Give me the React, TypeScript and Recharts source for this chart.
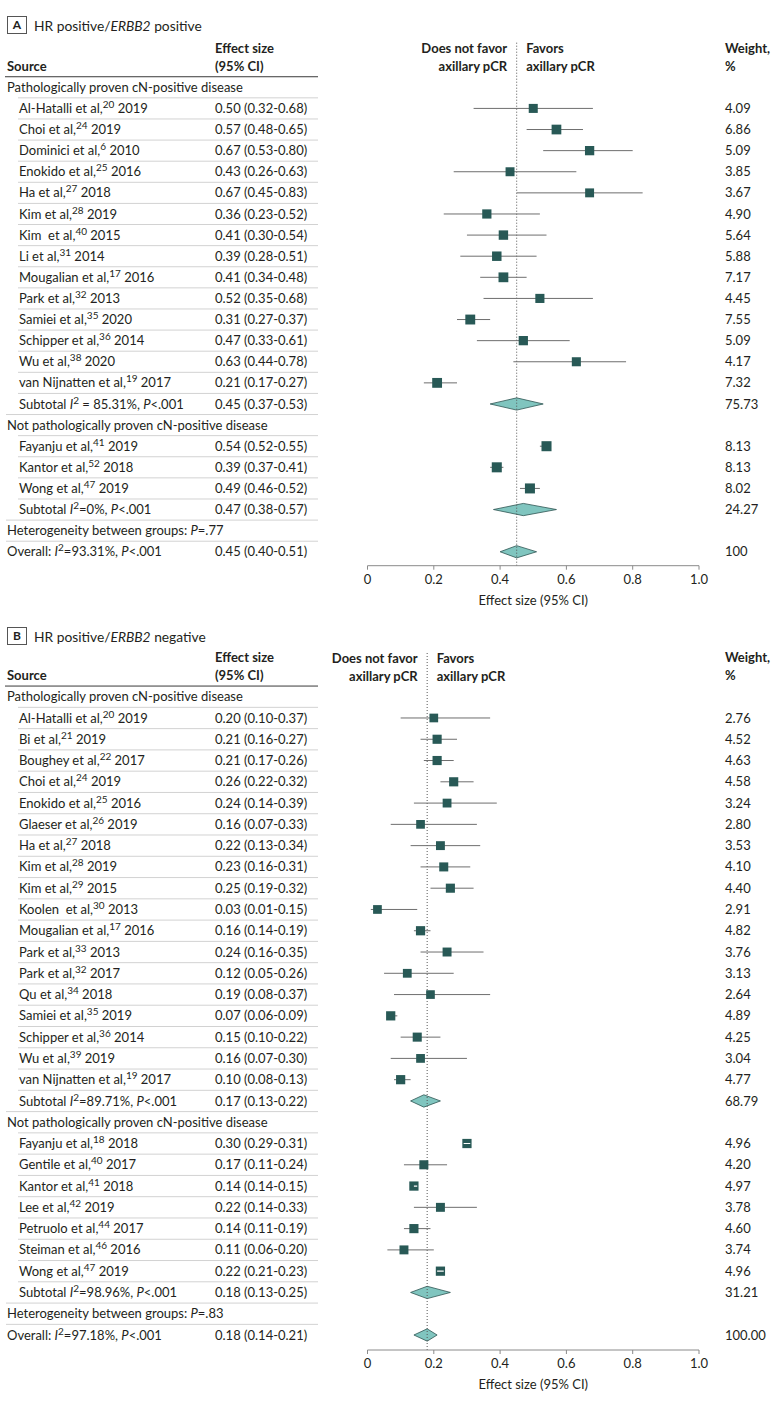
import React from 'react';
import {
  Area, ComposedChart, ErrorBar, ReferenceLine, Scatter, XAxis, YAxis,
} from 'recharts';

// ---- data, panel A: HR positive / ERBB2 positive ----
const groupLabels = ['Pathologically proven cN-positive disease', 'Not pathologically proven cN-positive disease'];

const authorsA = ['Al-Hatalli et al,', 'Choi et al,', 'Dominici et al,', 'Enokido et al,', 'Ha et al,', 'Kim et al,', 'Kim  et al,', 'Li et al,', 'Mougalian et al,', 'Park et al,', 'Samiei et al,', 'Schipper et al,', 'Wu et al,', 'van Nijnatten et al,', 'Fayanju et al,', 'Kantor et al,', 'Wong et al,'];
const refsA = ['20', '24', '6', '25', '27', '28', '40', '31', '17', '32', '35', '36', '38', '19', '41', '52', '47'];
const yearsA = ['2019', '2019', '2010', '2016', '2018', '2019', '2015', '2014', '2016', '2013', '2020', '2014', '2020', '2017', '2019', '2018', '2019'];
const groupA = [0, 0, 0, 0, 0, 0, 0, 0, 0, 0, 0, 0, 0, 0, 1, 1, 1];
const estA = [0.50, 0.57, 0.67, 0.43, 0.67, 0.36, 0.41, 0.39, 0.41, 0.52, 0.31, 0.47, 0.63, 0.21, 0.54, 0.39, 0.49];
const lowA = [0.32, 0.48, 0.53, 0.26, 0.45, 0.23, 0.30, 0.28, 0.34, 0.35, 0.27, 0.33, 0.44, 0.17, 0.52, 0.37, 0.46];
const highA = [0.68, 0.65, 0.80, 0.63, 0.83, 0.52, 0.54, 0.51, 0.48, 0.68, 0.37, 0.61, 0.78, 0.27, 0.55, 0.41, 0.52];
const weightA = [4.09, 6.86, 5.09, 3.85, 3.67, 4.90, 5.64, 5.88, 7.17, 4.45, 7.55, 5.09, 4.17, 7.32, 8.13, 8.13, 8.02];
const subI2A = [' = 85.31%', '=0%'];
const subEstA = [0.45, 0.47];
const subLowA = [0.37, 0.38];
const subHighA = [0.53, 0.57];
const subWeightA = ['75.73', '24.27'];
const hetPA = '.77';
const overallA = { i2: '=93.31%', est: 0.45, low: 0.40, high: 0.51, weight: '100' };

// ---- data, panel B: HR positive / ERBB2 negative ----
const authorsB = ['Al-Hatalli et al,', 'Bi et al,', 'Boughey et al,', 'Choi et al,', 'Enokido et al,', 'Glaeser et al,', 'Ha et al,', 'Kim et al,', 'Kim et al,', 'Koolen  et al,', 'Mougalian et al,', 'Park et al,', 'Park et al,', 'Qu et al,', 'Samiei et al,', 'Schipper et al,', 'Wu et al,', 'van Nijnatten et al,', 'Fayanju et al,', 'Gentile et al,', 'Kantor et al,', 'Lee et al,', 'Petruolo et al,', 'Steiman et al,', 'Wong et al,'];
const refsB = ['20', '21', '22', '24', '25', '26', '27', '28', '29', '30', '17', '33', '32', '34', '35', '36', '39', '19', '18', '40', '41', '42', '44', '46', '47'];
const yearsB = ['2019', '2019', '2017', '2019', '2016', '2019', '2018', '2019', '2015', '2013', '2016', '2013', '2017', '2018', '2019', '2014', '2019', '2017', '2018', '2017', '2018', '2019', '2017', '2016', '2019'];
const groupB = [0, 0, 0, 0, 0, 0, 0, 0, 0, 0, 0, 0, 0, 0, 0, 0, 0, 0, 1, 1, 1, 1, 1, 1, 1];
const estB = [0.20, 0.21, 0.21, 0.26, 0.24, 0.16, 0.22, 0.23, 0.25, 0.03, 0.16, 0.24, 0.12, 0.19, 0.07, 0.15, 0.16, 0.10, 0.30, 0.17, 0.14, 0.22, 0.14, 0.11, 0.22];
const lowB = [0.10, 0.16, 0.17, 0.22, 0.14, 0.07, 0.13, 0.16, 0.19, 0.01, 0.14, 0.16, 0.05, 0.08, 0.06, 0.10, 0.07, 0.08, 0.29, 0.11, 0.14, 0.14, 0.11, 0.06, 0.21];
const highB = [0.37, 0.27, 0.26, 0.32, 0.39, 0.33, 0.34, 0.31, 0.32, 0.15, 0.19, 0.35, 0.26, 0.37, 0.09, 0.22, 0.30, 0.13, 0.31, 0.24, 0.15, 0.33, 0.19, 0.20, 0.23];
const weightB = [2.76, 4.52, 4.63, 4.58, 3.24, 2.80, 3.53, 4.10, 4.40, 2.91, 4.82, 3.76, 3.13, 2.64, 4.89, 4.25, 3.04, 4.77, 4.96, 4.20, 4.97, 3.78, 4.60, 3.74, 4.96];
const subI2B = ['=89.71%', '=98.96%'];
const subEstB = [0.17, 0.18];
const subLowB = [0.13, 0.13];
const subHighB = [0.22, 0.25];
const subWeightB = ['68.79', '31.21'];
const hetPB = '.83';
const overallB = { i2: '=97.18%', est: 0.18, low: 0.14, high: 0.21, weight: '100.00' };

const xTicks = [0, 0.2, 0.4, 0.6, 0.8, 1];

// ---- layout / style ----
const CHART_W = 780;
const PLOT_LEFT = 367.5;
const PLOT_RIGHT = 699;
const PX_PER_UNIT = PLOT_RIGHT - PLOT_LEFT; // x axis runs 0..1
const INK = '#231f20';
const BOX = '#285956';
const DIAMOND_FILL = '#80c5bf';
const DIAMOND_EDGE = '#2f5653';
const WHISKER = '#6e6e6e';
const RULE = '#d2d2d2';
const DIAMOND_HALF = 0.29;
const FONT = 'Lato, "Open Sans", sans-serif';
const FS = 13;

type Row = {
  y: number;
  kind: 'group' | 'study' | 'subtotal' | 'het' | 'overall';
  label?: string;
  author?: string;
  refNo?: string;
  year?: string;
  i2?: string;
  p?: string;
  est?: number;
  low?: number;
  high?: number;
  w?: number;
  weight?: string;
};

function buildRows(
  authors: string[], refs: string[], years: string[], group: number[],
  est: number[], low: number[], high: number[], weight: number[],
  subI2: string[], subEst: number[], subLow: number[], subHigh: number[], subWeight: string[],
  hetP: string, overall: { i2: string; est: number; low: number; high: number; weight: string },
): Row[] {
  const rows: Omit<Row, 'y'>[] = [];
  groupLabels.forEach((g, gi) => {
    rows.push({ kind: 'group', label: g });
    authors.forEach((a, i) => {
      if (group[i] !== gi) return;
      rows.push({
        kind: 'study', author: a, refNo: refs[i], year: years[i],
        est: est[i], low: low[i], high: high[i], w: weight[i], weight: weight[i].toFixed(2),
      });
    });
    rows.push({
      kind: 'subtotal', i2: subI2[gi], p: '<.001', est: subEst[gi], low: subLow[gi], high: subHigh[gi], weight: subWeight[gi],
    });
  });
  rows.push({ kind: 'het', p: `=${hetP}` });
  rows.push({
    kind: 'overall', i2: overall.i2, p: '<.001', est: overall.est, low: overall.low, high: overall.high, weight: overall.weight,
  });
  return rows.map((r, i) => ({ ...r, y: i }));
}

const boxSize = (w: number) => 8 + 0.25 * w;
const ciText = (r: Row) => `${r.est!.toFixed(2)} (${r.low!.toFixed(2)}-${r.high!.toFixed(2)})`;

function StatLabel({ lead, r }: { lead: string; r: Row }) {
  return (
    <>
      {lead}
      <tspan fontStyle="italic">I</tspan>
      <tspan dy={-5} fontSize={10}>2</tspan>
      <tspan dy={5}>{`${r.i2}, `}</tspan>
      <tspan fontStyle="italic">P</tspan>
      {r.p}
    </>
  );
}

function RowTick(props: any) {
  const { y, payload, rows } = props;
  const v: number = payload.value;
  const text = { fill: INK, fontSize: FS, dy: '0.35em', style: { whiteSpace: 'pre' } } as const;
  if (v === -1) {
    return (
      <g fontWeight="bold">
        <text x={7} y={y} {...text}>Source</text>
        <text x={215} y={y - 18} {...text}>Effect size</text>
        <text x={215} y={y} {...text}>(95% CI)</text>
        <text x={725} y={y - 18} {...text}>Weight,</text>
        <text x={725} y={y} {...text}>%</text>
      </g>
    );
  }
  if (!Number.isInteger(v)) {
    const next: Row = rows[v + 0.5];
    const top = v < 0;
    const indented = next.kind === 'study' || next.kind === 'subtotal';
    return (
      <line
        x1={top ? 5 : indented ? 18 : 6}
        x2={318}
        y1={y}
        y2={y}
        stroke={top ? '#3a3a3a' : RULE}
        strokeWidth={1}
      />
    );
  }
  const r: Row = rows[v];
  let source: React.ReactNode = null;
  let sx = 7;
  if (r.kind === 'group') source = r.label;
  if (r.kind === 'study') {
    sx = 19;
    source = (
      <>
        {r.author}
        <tspan dy={-5} fontSize={10}>{r.refNo}</tspan>
        <tspan dy={5}>{` ${r.year}`}</tspan>
      </>
    );
  }
  if (r.kind === 'subtotal') {
    sx = 19;
    source = <StatLabel lead="Subtotal " r={r} />;
  }
  if (r.kind === 'het') {
    source = (
      <>
        {'Heterogeneity between groups: '}
        <tspan fontStyle="italic">P</tspan>
        {r.p}
      </>
    );
  }
  if (r.kind === 'overall') source = <StatLabel lead="Overall: " r={r} />;
  return (
    <g>
      <text x={sx} y={y} {...text}>{source}</text>
      {r.est !== undefined && <text x={215} y={y} {...text}>{ciText(r)}</text>}
      {r.weight && <text x={725} y={y} {...text}>{r.weight}</text>}
    </g>
  );
}

function FavorLabel(props: any) {
  const { viewBox } = props;
  const vx = viewBox.x;
  const vy = viewBox.y;
  const t = { fill: INK, fontSize: FS, fontWeight: 'bold', dy: '0.35em' } as const;
  return (
    <g>
      <text x={vx - 9.5} y={vy + 7} textAnchor="end" {...t}>Does not favor</text>
      <text x={vx - 9.5} y={vy + 24.8} textAnchor="end" {...t}>axillary pCR</text>
      <text x={vx + 9.5} y={vy + 7} {...t}>Favors</text>
      <text x={vx + 9.5} y={vy + 24.8} {...t}>axillary pCR</text>
    </g>
  );
}

// study marker; when the CI is narrower than the box, the CI shows as a white line inside it
function StudyBox(props: any) {
  const { cx, cy, payload } = props;
  const s = boxSize(payload.w);
  const ciPx = (payload.high - payload.low) * PX_PER_UNIT;
  const inside = ciPx < s * 0.9;
  const x0 = cx - (payload.est - payload.low) * PX_PER_UNIT;
  return (
    <g>
      <rect x={cx - s / 2} y={cy - s / 2} width={s} height={s} fill={BOX} />
      {inside && <line x1={x0} x2={x0 + ciPx} y1={cy} y2={cy} stroke="#ffffff" strokeWidth={1.2} />}
    </g>
  );
}

type PanelProps = {
  letter: string;
  subtype: string;
  rows: Row[];
  top: number;
  height: number;
  marginTop: number;
  marginBottom: number;
  domain: [number, number];
};

function Panel({
  letter, subtype, rows, top, height, marginTop, marginBottom, domain,
}: PanelProps) {
  const studies = rows
    .filter((r) => r.kind === 'study')
    .map((r) => ({ ...r, x: r.est, ci: [r.est! - r.low!, r.high! - r.est!] }));
  const diamonds = rows
    .filter((r) => r.kind === 'subtotal' || r.kind === 'overall')
    .map((r) => [
      { x: r.low, band: [r.y, r.y] },
      { x: r.est, band: [r.y - DIAMOND_HALF, r.y + DIAMOND_HALF] },
      { x: r.high, band: [r.y, r.y] },
    ]);
  const pooled = rows[rows.length - 1].est!;
  const yTicks: number[] = [-1];
  rows.forEach((r) => { yTicks.push(r.y - 0.5, r.y); });

  return (
    <div style={{ position: 'absolute', left: 0, top, width: CHART_W, height }}>
      <div
        style={{
          position: 'absolute', left: 7, top: 15, display: 'flex', alignItems: 'center', color: INK, fontFamily: FONT,
        }}
      >
        <span
          style={{
            border: '1px solid #555', width: 18, height: 16, display: 'inline-flex', alignItems: 'center', justifyContent: 'center', fontSize: 12, fontWeight: 'bold',
          }}
        >
          {letter}
        </span>
        <span style={{ marginLeft: 7, fontSize: 13.8, marginTop: 2 }}>
          HR positive/
          <i>ERBB2</i>
          {` ${subtype}`}
        </span>
      </div>
      <ComposedChart
        width={CHART_W}
        height={height}
        margin={{
          top: marginTop, right: CHART_W - PLOT_RIGHT, bottom: marginBottom, left: 0,
        }}
        style={{ fontFamily: FONT }}
      >
        <XAxis
          type="number"
          dataKey="x"
          domain={[0, 1]}
          ticks={xTicks}
          allowDataOverflow
          tickFormatter={(v: number) => (v === 0 ? '0' : v.toFixed(1))}
          stroke="#8a8a8a"
          tickSize={4}
          tickMargin={5}
          tick={{ fill: INK, fontSize: FS }}
          height={40}
          label={{
            value: 'Effect size (95% CI)', position: 'insideBottom', offset: 1, fill: INK, fontSize: FS,
          }}
        />
        <YAxis
          type="number"
          dataKey="y"
          domain={domain}
          allowDataOverflow
          reversed
          ticks={yTicks}
          interval={0}
          width={PLOT_LEFT}
          axisLine={false}
          tickLine={false}
          tick={(p: any) => <RowTick {...p} rows={rows} />}
        />
        <ReferenceLine x={pooled} stroke="#555" strokeDasharray="1 2" label={<FavorLabel />} />
        <Scatter data={studies} shape={<StudyBox />} isAnimationActive={false}>
          <ErrorBar dataKey="ci" direction="x" width={0} stroke={WHISKER} strokeWidth={1} isAnimationActive={false} />
        </Scatter>
        {diamonds.map((d, i) => (
          <Area
            key={i}
            data={d}
            type="linear"
            dataKey="band"
            stroke={DIAMOND_EDGE}
            strokeWidth={0.8}
            fill={DIAMOND_FILL}
            fillOpacity={1}
            dot={false}
            activeDot={false}
            isAnimationActive={false}
          />
        ))}
      </ComposedChart>
    </div>
  );
}

const rowsA = buildRows(authorsA, refsA, yearsA, groupA, estA, lowA, highA, weightA, subI2A, subEstA, subLowA, subHighA, subWeightA, hetPA, overallA);
const rowsB = buildRows(authorsB, refsB, yearsB, groupB, estB, lowB, highB, weightB, subI2B, subEstB, subLowB, subHighB, subWeightB, hetPB, overallB);

export default function App() {
  return (
    <div style={{
      position: 'absolute', left: 0, top: 0, width: CHART_W, height: 1401, background: '#fff',
    }}
    >
      <Panel letter="A" subtype="positive" rows={rowsA} top={0} height={620} marginTop={41.7} marginBottom={14.3} domain={[-2.16, 22.66]} />
      <Panel letter="B" subtype="negative" rows={rowsB} top={611} height={790} marginTop={40.7} marginBottom={11} domain={[-2.115, 30.705]} />
    </div>
  );
}
